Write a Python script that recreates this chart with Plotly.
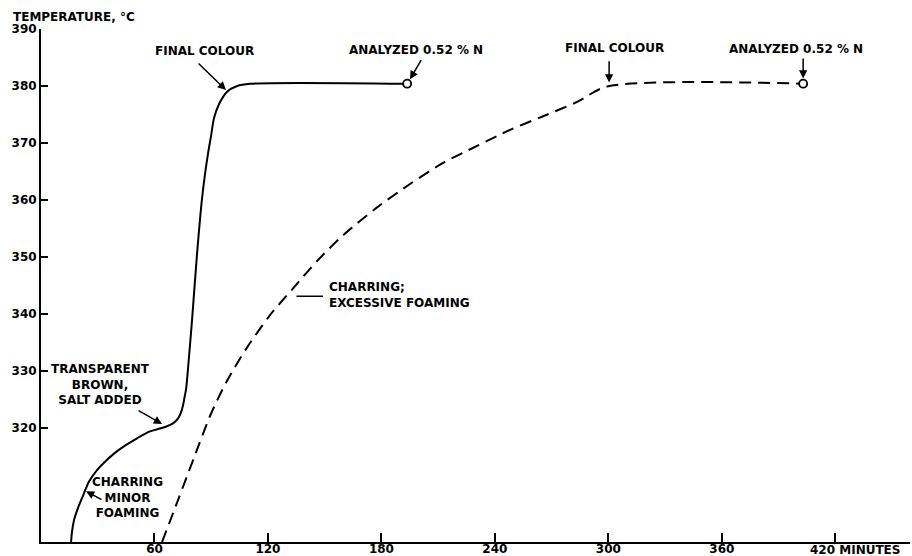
import plotly.graph_objects as go

# Heating run with salt added (solid) -- time in minutes, temperature in deg C
time_salt = [15.9, 16.4, 17.5, 19.6, 22.2, 25.4, 29.1, 33.3, 38.6, 44.4, 50.8, 57.6, 62.9,
             66.6, 69.8, 72.5, 74.0, 75.1, 75.9, 76.7, 77.7, 79.9, 82.5, 85.1, 86.7, 88.3,
             89.9, 91.5, 94.1, 98.4, 103.7, 110.5, 193.6]
temp_salt = [300.0, 301.8, 303.9, 306.0, 308.1, 310.6, 312.4, 313.9, 315.5, 316.9, 318.2, 319.4, 319.9,
             320.3, 320.8, 321.7, 322.7, 324.0, 325.4, 326.8, 330.3, 339.1, 350.5, 360.1, 364.5, 368.1,
             371.2, 374.4, 376.8, 379.0, 380.0, 380.4, 380.4]

# Run without salt (dashed)
time_plain = [64.0, 72.5, 80.9, 89.9, 98.4, 108.9, 121.1, 133.3, 146.0, 159.7, 177.7, 195.1,
              212.6, 230.6, 248.0, 265.5, 283.5, 299.3, 403.0]
temp_plain = [300.0, 307.4, 314.8, 322.5, 328.3, 334.1, 339.8, 344.5, 349.3, 353.8, 358.7, 362.8,
              366.5, 369.5, 372.3, 374.7, 377.2, 379.9, 380.4]

x_ticks = [60, 120, 180, 240, 300, 360, 420]
x_ticktext = ["60", "120", "180", "240", "300", "360", ""]
y_ticks = [320, 330, 340, 350, 360, 370, 380, 390]

FONT = dict(family="DejaVu Sans", size=12, color="black", weight="bold")

fig = go.Figure()
fig.add_trace(go.Scatter(
    x=time_salt, y=temp_salt, mode="lines",
    line=dict(color="black", width=2, shape="spline", smoothing=0.8),
    showlegend=False, hoverinfo="skip"))
fig.add_trace(go.Scatter(
    x=time_plain, y=temp_plain, mode="lines",
    line=dict(color="black", width=2, dash="12px,7px", shape="spline", smoothing=0.8),
    showlegend=False, hoverinfo="skip"))
# sampling points where nitrogen was analysed
fig.add_trace(go.Scatter(
    x=[time_salt[-1], time_plain[-1]], y=[temp_salt[-1], temp_plain[-1]], mode="markers",
    marker=dict(symbol="circle", size=8, color="white", line=dict(color="black", width=1.8)),
    showlegend=False, hoverinfo="skip"))

annotations = []


def label(text, x, y, xanchor="center", align="center"):
    annotations.append(dict(text=text, x=x, y=y, xref="x", yref="y", showarrow=False,
                            xanchor=xanchor, yanchor="middle", align=align, font=FONT))


def pointer(x0, y0, x1, y1, head=2):
    annotations.append(dict(text="", x=x1, y=y1, ax=x0, ay=y0, xref="x", yref="y",
                            axref="x", ayref="y", showarrow=True, arrowhead=head,
                            arrowsize=1.1, arrowwidth=1.5, arrowcolor="black", standoff=0))


label("FINAL COLOUR", 86.5, 386.15)
pointer(82.5, 384.2, 97.8, 379.3)
label("ANALYZED 0.52 % N", 198.3, 386.3)
pointer(201.5, 384.8, 195.1, 381.2)
label("FINAL COLOUR", 303.5, 386.6)
pointer(300.4, 384.6, 300.4, 380.6)
label("ANALYZED 0.52 % N", 399.3, 386.5)
pointer(403, 385.1, 403, 381.3)
label("TRANSPARENT<br>BROWN,<br>SALT ADDED", 31.7, 327.7)
pointer(50.8, 323.2, 64, 320.7)
label("CHARRING<br>MINOR<br>FOAMING", 46, 307.8)
pointer(32.8, 307.3, 23.8, 308.9)
label("CHARRING;<br>EXCESSIVE FOAMING", 151.2, 343.3, xanchor="left", align="left")
pointer(134.3, 343.1, 149.1, 343.1, head=0)

annotations.append(dict(text="TEMPERATURE, °C", x=0, y=1, xref="paper", yref="paper",
                        xanchor="left", yanchor="middle", xshift=-30, yshift=12,
                        showarrow=False, font=FONT))
annotations.append(dict(text="420 MINUTES", x=420, y=0, xref="x", yref="paper",
                        xanchor="left", yanchor="middle", xshift=-27, yshift=-8,
                        showarrow=False, font=FONT))

fig.update_layout(
    width=912, height=556,
    margin=dict(l=41, r=2, t=29, b=14),
    paper_bgcolor="white", plot_bgcolor="white",
    font=FONT,
    annotations=annotations,
)
fig.update_xaxes(range=[0, 459.5], tickvals=x_ticks, ticktext=x_ticktext,
                 showline=True, linecolor="black", linewidth=2,
                 ticks="inside", ticklen=9, tickwidth=1.5, tickcolor="black",
                 ticklabelstandoff=-5,
                 showgrid=False, zeroline=False, automargin=False, tickfont=FONT)
fig.update_yaxes(range=[300, 390], tickvals=y_ticks,
                 showline=True, linecolor="black", linewidth=2,
                 ticks="inside", ticklen=7, tickwidth=1.5, tickcolor="black",
                 showgrid=False, zeroline=False, automargin=False, tickfont=FONT)

fig.write_html("out.html")
